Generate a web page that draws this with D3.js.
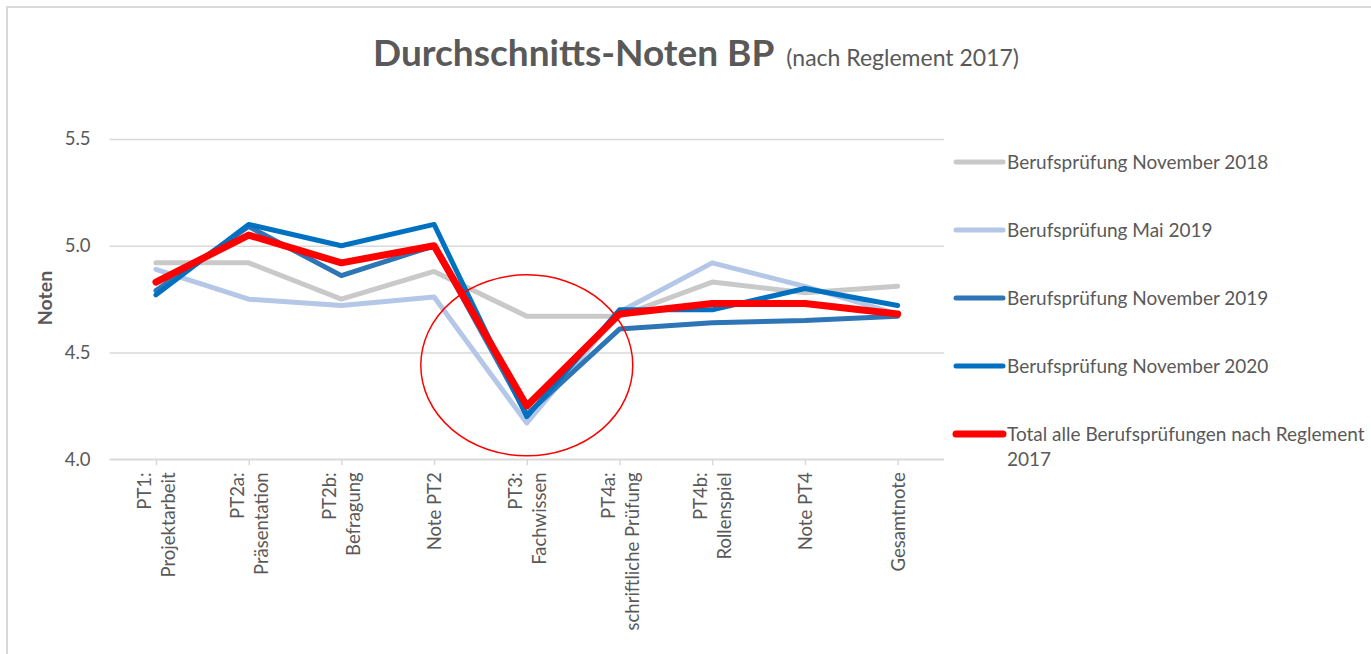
<!DOCTYPE html>
<html>
<head>
<meta charset="utf-8">
<script src="https://cdn.jsdelivr.net/npm/d3@7"></script>
<style>
    body { margin: 0; background: #fff; }
    text { font-family: Lato, "Open Sans", sans-serif; fill: #595959; }
</style>
</head>
<body>
<div id="chart"></div>
<script>
// --------------------------------------
// Data
const categories = [
    "PT1:|Projektarbeit",
    "PT2a:|Präsentation",
    "PT2b:|Befragung",
    "Note PT2",
    "PT3:|Fachwissen",
    "PT4a:|schriftliche Prüfung",
    "PT4b:|Rollenspiel",
    "Note PT4",
    "Gesamtnote"
];
const yTicks = [4.0, 4.5, 5.0, 5.5];

const seriesNames = [
    "Berufsprüfung November 2018",
    "Berufsprüfung Mai 2019",
    "Berufsprüfung November 2019",
    "Berufsprüfung November 2020",
    "Total alle Berufsprüfungen nach Reglement|2017"
];
const nov2018 = [4.92, 4.92, 4.75, 4.88, 4.67, 4.67, 4.83, 4.78, 4.81];
const mai2019 = [4.89, 4.75, 4.72, 4.76, 4.17, 4.69, 4.92, 4.81, 4.68];
const nov2019 = [4.79, 5.09, 4.86, 5.00, 4.21, 4.61, 4.64, 4.65, 4.67];
const nov2020 = [4.77, 5.10, 5.00, 5.10, 4.20, 4.70, 4.70, 4.80, 4.72];
const total   = [4.83, 5.05, 4.92, 5.00, 4.25, 4.68, 4.73, 4.73, 4.68];

const seriesValues = [nov2018, mai2019, nov2019, nov2020, total];
const seriesColors = ["#C9C9C9", "#B4C7E7", "#2E75B6", "#0070C0", "#FF0000"];
const seriesWidths = [5, 5, 5, 5, 7];

class chartNoten {
    constructor() {
        this.width = 1371;
        this.height = 654;
        this.svg = d3.select("#chart")
            .append("svg")
            .attr("width", this.width)
            .attr("height", this.height);

        // outer frame of the chart object (runs off the right edge)
        this.svg.append("rect")
            .attr("x", 7).attr("y", 7)
            .attr("width", 1400).attr("height", 700)
            .attr("fill", "#fff")
            .attr("stroke", "#D9D9D9")
            .attr("stroke-width", 2);

        const left = 109.6, right = 944, top = 139, bottom = 459.3;

        const x = d3.scalePoint()
            .domain(categories)
            .range([left, right])
            .padding(0.5);
        const y = d3.scaleLinear()
            .domain([4, 5.5])
            .range([bottom, top]);

        // title
        const title = this.svg.append("text")
            .attr("x", 696).attr("y", 66)
            .attr("text-anchor", "middle");
        title.append("tspan")
            .attr("font-size", 37).attr("font-weight", "bold")
            .text("Durchschnitts-Noten BP");
        title.append("tspan")
            .attr("font-size", 23)
            .attr("dx", 12)
            .text("(nach Reglement 2017)");

        // y axis + gridlines
        const yAxis = this.svg.append("g")
            .attr("transform", `translate(${left},0)`)
            .call(d3.axisLeft(y).tickValues(yTicks).tickFormat(d3.format(".1f"))
                .tickSize(-(right - left)).tickPadding(19));
        yAxis.select(".domain").remove();
        yAxis.selectAll("line").attr("stroke", "#D9D9D9").attr("stroke-width", 1.5);
        yAxis.selectAll("text").attr("font-size", 18.5).attr("fill", "#595959")
            .attr("font-family", "Lato, sans-serif");

        this.svg.append("text")
            .attr("transform", "translate(52,298) rotate(-90)")
            .attr("text-anchor", "middle")
            .attr("font-size", 19.5).attr("font-weight", "bold")
            .text("Noten");

        // x axis
        const xAxis = this.svg.append("g")
            .attr("transform", `translate(0,${bottom})`)
            .call(d3.axisBottom(x).tickSize(6).tickFormat(""));
        xAxis.select(".domain").attr("stroke", "#D9D9D9").attr("stroke-width", 1.5)
            .attr("d", `M${left},0H${right}`);
        xAxis.selectAll("line").attr("stroke", "#D9D9D9").attr("stroke-width", 1.5);

        const lineGap = 24;
        categories.forEach(c => {
            const parts = c.split("|");
            parts.forEach((p, i) => {
                const bx = x(c) + 7 + (i - (parts.length - 1) / 2) * lineGap;
                this.svg.append("text")
                    .attr("transform", `translate(${bx},${bottom + 13}) rotate(-90)`)
                    .attr("text-anchor", "end")
                    .attr("font-size", 18.5)
                    .text(p);
            });
        });

        // lines
        const line = d3.line()
            .x((d, i) => x(categories[i]))
            .y(d => y(d));
        this.svg.append("g")
            .selectAll("path")
            .data(seriesValues)
            .join("path")
            .attr("d", line)
            .attr("fill", "none")
            .attr("stroke", (d, i) => seriesColors[i])
            .attr("stroke-width", (d, i) => seriesWidths[i])
            .attr("stroke-linejoin", "round")
            .attr("stroke-linecap", "round");

        // highlight ellipse around PT3
        this.svg.append("ellipse")
            .attr("cx", x(categories[4]))
            .attr("cy", y(4.44))
            .attr("rx", 106)
            .attr("ry", 90.5)
            .attr("fill", "none")
            .attr("stroke", "#FF0000")
            .attr("stroke-width", 1.5);

        // legend
        const legend = this.svg.append("g");
        seriesNames.forEach((name, i) => {
            const ly = 162 + i * 68;
            legend.append("line")
                .attr("x1", 956).attr("x2", 1003)
                .attr("y1", ly).attr("y2", ly)
                .attr("stroke", seriesColors[i])
                .attr("stroke-width", seriesWidths[i])
                .attr("stroke-linecap", "round");
            name.split("|").forEach((p, j) => {
                legend.append("text")
                    .attr("x", 1007).attr("y", ly + 7 + j * 25)
                    .attr("font-size", 19)
                    .text(p);
            });
        });
    }
}

function whenDocumentLoaded(action) {
    if (document.readyState === "loading") {
        document.addEventListener("DOMContentLoaded", action);
    } else {
        action();
    }
}
whenDocumentLoaded(() => {
    plot_object = new chartNoten();
});
</script>
</body>
</html>
